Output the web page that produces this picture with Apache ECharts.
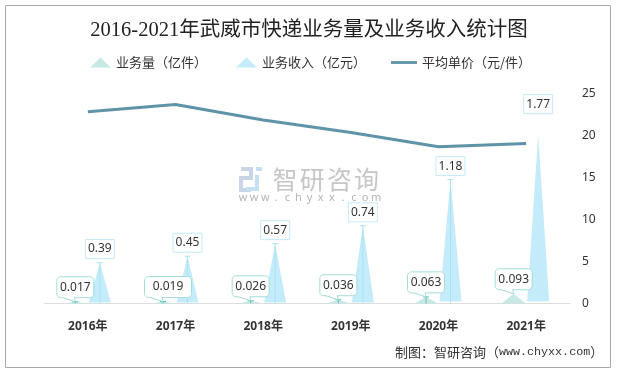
<!DOCTYPE html>
<html><head><meta charset="utf-8">
<style>html,body{margin:0;padding:0;background:#fff}#c{width:618px;height:372px}</style>
<script src="https://cdn.jsdelivr.net/npm/echarts@6/dist/echarts.min.js"></script>
</head><body><div id="c"></div>
<script>
const titleText = '2016-2021年武威市快递业务量及业务收入统计图';
const sourceHead = '制图：智研咨询（';
const sourceUrl = 'www.chyxx.com';
const sourceTail = '）';
const categories = ['2016年','2017年','2018年','2019年','2020年','2021年'];
const volumeName = '业务量（亿件）';
const revenueName = '业务收入（亿元）';
const priceName = '平均单价（元/件）';
const volume = [0.017,0.019,0.026,0.036,0.063,0.093];
const revenue = [0.39,0.45,0.57,0.74,1.18,1.77];
// visible tip of each revenue spike (the 2021 spike fades out below its value)
const revenueVisibleTop = [0.39,0.45,0.57,0.74,1.18,1.61];
const price = [22.83,23.7,21.85,20.35,18.67,19.05];
const priceTicks = {min:0,max:25,interval:5};
const wmChars = ['智','研','咨','询'];
const wmUrl = 'www.chyxx.com'.split('');

const FONT = '"Noto Sans","Noto Sans CJK SC",sans-serif';
const TXT = '#333';
const MONEY = '#c3ebf9', MONEY_LINE = '#a9e3f2', MONEY_BORDER = '#c3ebf9';
const VOL = '#c8e8e5', VOL_LINE = '#5cc4b4', VOL_BORDER = '#a3dcd7';
const OFF = 12.5, HALF = 11;
const lastIdx = categories.length - 1;

function roundedBoxWithTail(x,y,w,h,r,tipX,tipY){
  const pts=[];
  const arc=(cx,cy,a0)=>{for(let k=0;k<=6;k++){const a=a0+k/6*Math.PI/2;pts.push([cx+r*Math.cos(a),cy+r*Math.sin(a)]);}};
  arc(x+r,y+r,Math.PI);
  arc(x+w-r,y+r,-Math.PI/2);
  arc(x+w-r,y+h-r,0);
  pts.push([tipX-1,y+h],[tipX,tipY],[x+6,y+h]);
  arc(x+r,y+h-r,Math.PI/2);
  return pts;
}
function volumeItem(params,api){
  const i=api.value(0),v=api.value(1);
  const base=api.coord([i,0]),top=api.coord([i,v]);
  const cx=base[0]-OFF;
  const kids=[{type:'polygon',shape:{points:[[cx-HALF-1,base[1]],[cx,top[1]],[cx+HALF+1,base[1]]]},style:{fill:VOL}}];
  if(i!==lastIdx){
    kids.push({type:'line',shape:{x1:cx,y1:base[1],x2:cx,y2:top[1]},style:{stroke:VOL_LINE,lineWidth:1}});
    kids.push({type:'line',shape:{x1:cx-3,y1:top[1],x2:cx+3,y2:top[1]},style:{stroke:VOL_LINE,lineWidth:1}});
  }
  const text=String(v);
  const w=i===1?47:37,h=21,x=cx-18.5,y=top[1]-4-h;
  kids.push({type:'polygon',shape:{points:roundedBoxWithTail(x,y,w,h,4,cx,top[1])},style:{fill:'#fff',stroke:VOL_BORDER,lineWidth:1}});
  kids.push({type:'text',style:{x:x+w/2,y:y+h/2,text,fill:TXT,font:'12px '+FONT,align:'center',verticalAlign:'middle'}});
  return {type:'group',children:kids};
}
function revenueItem(params,api){
  const i=api.value(0),v=api.value(1),shown=revenueVisibleTop[i];
  const base=api.coord([i,0]),top=api.coord([i,v]),vis=api.coord([i,shown]);
  const cx=base[0]+OFF-0.5;
  const by=base[1]-(i>=4?2:1);
  const kids=[{type:'polygon',shape:{points:[[cx-HALF,by],[cx,vis[1]],[cx+HALF,by]]},style:{fill:MONEY}}];
  if(i!==lastIdx){
    kids.push({type:'line',shape:{x1:cx,y1:base[1],x2:cx,y2:top[1]},style:{stroke:MONEY_LINE,lineWidth:1}});
    kids.push({type:'line',shape:{x1:cx-3,y1:top[1],x2:cx+3,y2:top[1]},style:{stroke:MONEY_LINE,lineWidth:1}});
  }
  const w=29,h=19,x=cx-w/2,y=top[1]-4-h;
  kids.push({type:'rect',shape:{x,y,width:w,height:h},style:{fill:'#fff',stroke:MONEY_BORDER,lineWidth:1}});
  kids.push({type:'text',style:{x:x+w/2,y:y+h/2,text:v.toFixed(2),fill:TXT,font:'12px '+FONT,align:'center',verticalAlign:'middle'}});
  return {type:'group',children:kids};
}
const graphic=[
  {type:'rect',shape:{x:5.5,y:5.5,width:605,height:362},style:{fill:'none',stroke:'#aaa',lineWidth:1},silent:true,z:0},
  {type:'polyline',shape:{points:[[241,169],[251,169],[251,178],[241,178],[241,190],[251,190]]},style:{fill:'none',stroke:'#c9d5e6',lineWidth:4},silent:true,z:0},
  {type:'polyline',shape:{points:[[256,169],[262,169]]},style:{fill:'none',stroke:'#c5e1f1',lineWidth:4},silent:true,z:0},
  {type:'polyline',shape:{points:[[257,175],[257,189],[246,189]]},style:{fill:'none',stroke:'#c5e1f1',lineWidth:4},silent:true,z:0},
  ...wmChars.map((t,i)=>({type:'text',style:{x:285+i*27.2,y:179,text:t,fill:'#c6c6c6',font:'25px "Noto Sans CJK SC"',align:'center',verticalAlign:'middle'},silent:true,z:0})),
  ...wmUrl.map((t,i)=>({type:'text',style:{x:243+i*11.1,y:198,text:t,fill:'#b4b4b4',font:'11px "Noto Sans"',align:'center',verticalAlign:'middle'},silent:true,z:0})),
  {type:'text',style:{x:395,y:352,text:'{a|'+sourceHead+'}{b|'+sourceUrl+'}{a|'+sourceTail+'}',verticalAlign:'middle',
    rich:{a:{font:'13px "Noto Sans CJK SC"',fill:'#333'},b:{font:'11.7px "Liberation Mono"',fill:'#333'}}},silent:true,z:5}
];
const legendText={fontFamily:'"Noto Sans CJK SC"',fontSize:13,color:'#333'};
const option={
  animation:false,
  backgroundColor:'#fff',
  title:{text:titleText,left:'center',top:15,textStyle:{fontFamily:'"Liberation Serif","Noto Sans CJK SC"',fontSize:20.5,fontWeight:'normal',color:'#222'}},
  legend:[
    {data:[{name:volumeName,icon:'triangle'}],left:90,top:56,padding:0,itemWidth:21,itemHeight:10,textStyle:legendText,selectedMode:false},
    {data:[{name:revenueName,icon:'triangle'}],left:236,top:56,padding:0,itemWidth:21,itemHeight:10,textStyle:legendText,selectedMode:false},
    {data:[{name:priceName,icon:'path://M0 0H28V3H0Z'}],left:391,top:56,padding:0,itemWidth:26,itemHeight:3,textStyle:legendText,selectedMode:false}
  ],
  grid:{left:44,right:48,top:93.5,height:210},
  xAxis:{type:'category',data:categories,axisTick:{show:false},axisLine:{lineStyle:{color:'#ddd',width:1}},
    axisLabel:{margin:17,fontWeight:'bold',fontSize:12,color:'#333',fontFamily:FONT}},
  yAxis:[
    {type:'value',position:'right',...priceTicks,axisLine:{show:false},axisTick:{show:false},splitLine:{show:false},
      axisLabel:{margin:12,fontSize:12,color:'#333',fontFamily:FONT}},
    {type:'value',min:0,max:2,show:false,splitLine:{show:false}}
  ],
  graphic,
  series:[
    {name:revenueName,type:'custom',yAxisIndex:1,renderItem:revenueItem,encode:{x:0,y:1},silent:true,clip:false,z:2,itemStyle:{color:MONEY},
      data:revenue.map((v,i)=>[i,v])},
    {name:volumeName,type:'custom',yAxisIndex:1,renderItem:volumeItem,encode:{x:0,y:1},silent:true,clip:false,z:3,itemStyle:{color:VOL},
      data:volume.map((v,i)=>[i,v])},
    {name:priceName,type:'line',yAxisIndex:0,data:price,symbol:'none',silent:true,z:4,itemStyle:{color:'#5f93a8'},lineStyle:{color:'#5f93a8',width:3}}
  ]
};
echarts.init(document.getElementById('c'),null,{renderer:'canvas'}).setOption(option);
</script></body></html>
